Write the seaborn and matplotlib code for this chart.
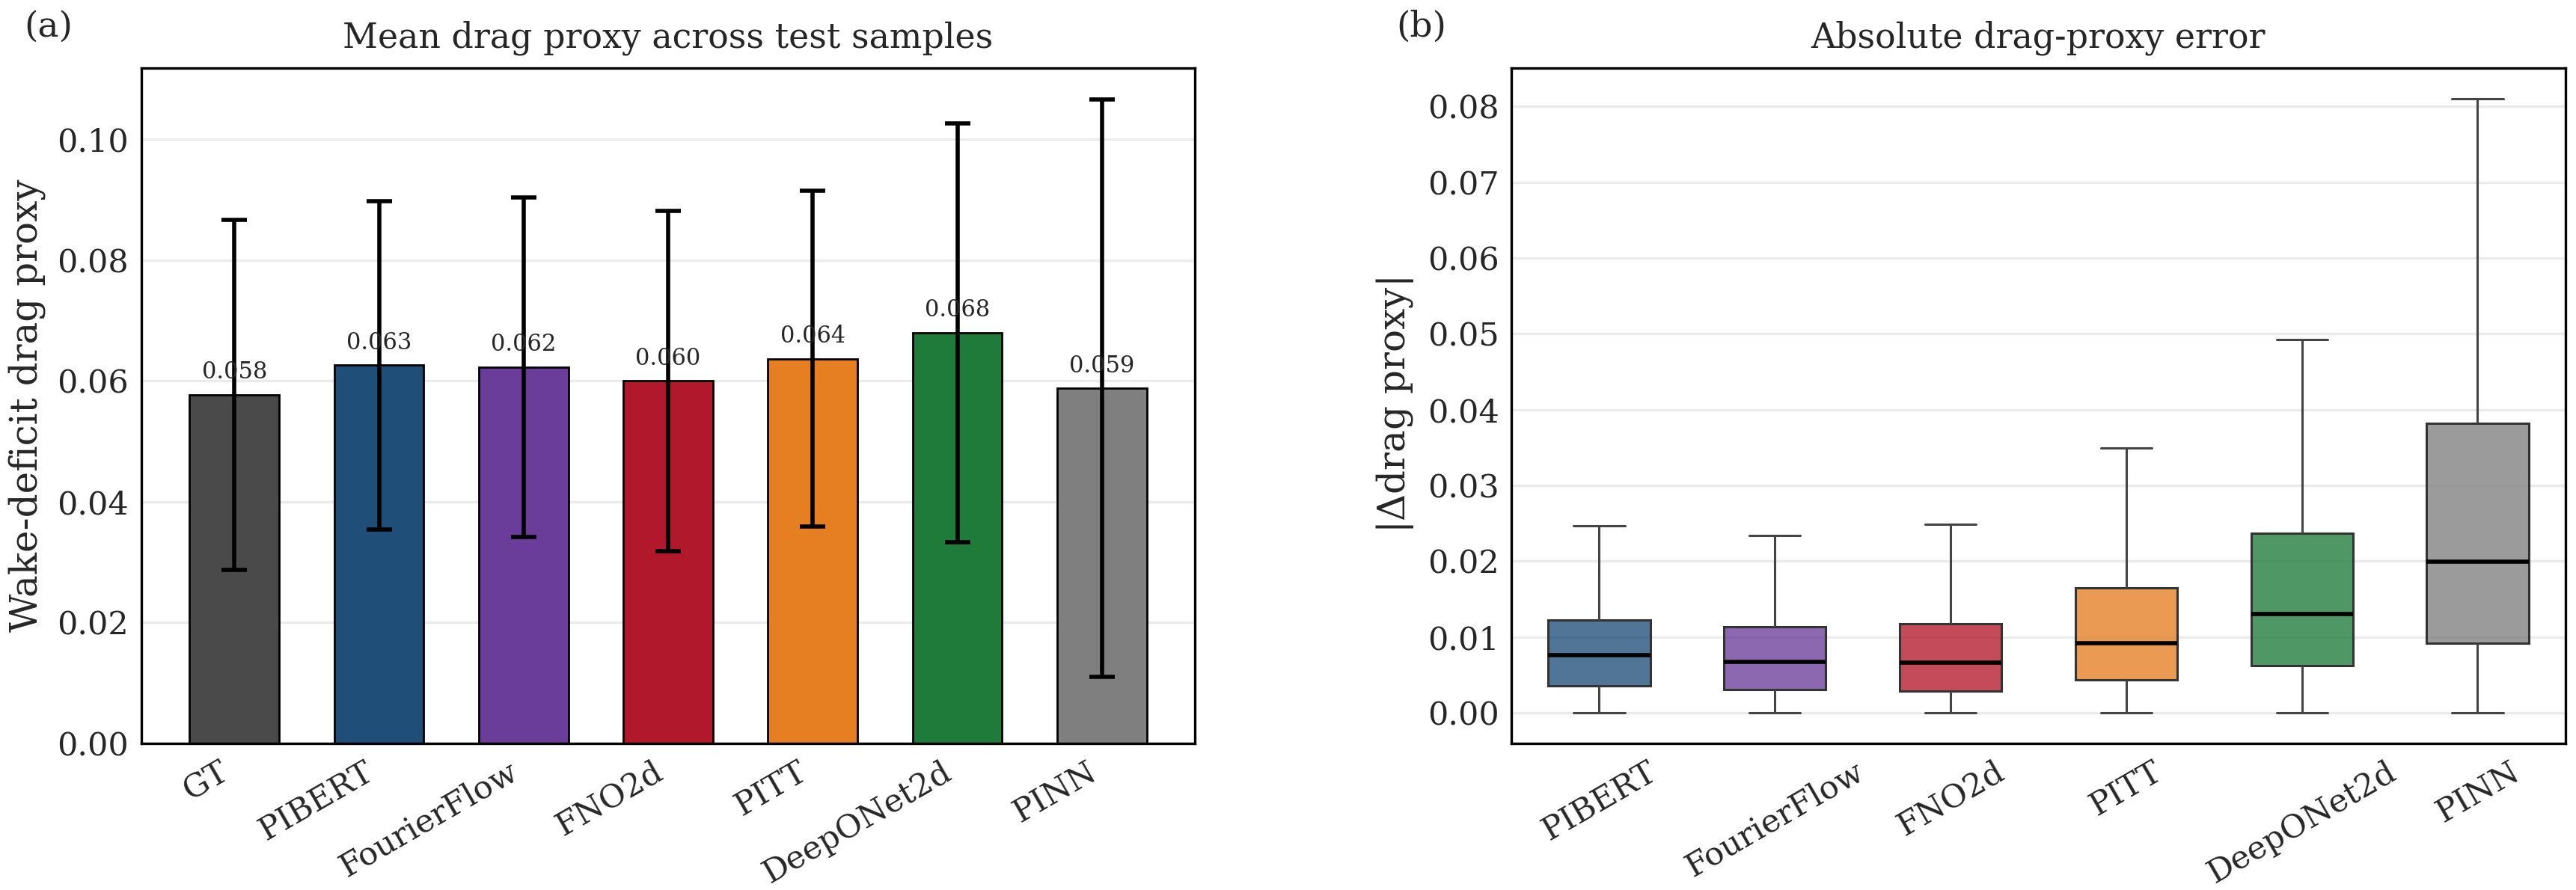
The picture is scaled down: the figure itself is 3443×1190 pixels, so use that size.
import numpy as np
import pandas as pd
import matplotlib
matplotlib.use("Agg")
import matplotlib.pyplot as plt
import seaborn as sns
from matplotlib.colors import to_rgba

# data
models = ["GT", "PIBERT", "FourierFlow", "FNO2d", "PITT", "DeepONet2d", "PINN"]
mean_drag = [0.0577, 0.0626, 0.0623, 0.0600, 0.0637, 0.0680, 0.0588]
std_drag = [0.0290, 0.0272, 0.0281, 0.0282, 0.0278, 0.0347, 0.0478]
colors = ["#4a4a4a", "#1f4e79", "#6a3d9a", "#b2182b", "#e67e22", "#1e7b3a", "#7f7f7f"]

# absolute error box stats: whisker low, Q1, median, Q3, whisker high
err_models = ["PIBERT", "FourierFlow", "FNO2d", "PITT", "DeepONet2d", "PINN"]
err_lo = [0.0, 0.0, 0.0, 0.0, 0.0, 0.0]
err_q1 = [0.0035, 0.0031, 0.0029, 0.0043, 0.0062, 0.0092]
err_med = [0.0076, 0.0067, 0.0066, 0.0092, 0.0130, 0.0199]
err_q3 = [0.0122, 0.0113, 0.0117, 0.0165, 0.0237, 0.0382]
err_hi = [0.0247, 0.0234, 0.0249, 0.0349, 0.0492, 0.0810]

sns.set_style("white")
plt.rcParams["font.family"] = ["DejaVu Serif"]
plt.rcParams["mathtext.fontset"] = "dejavuserif"

fig, (ax1, ax2) = plt.subplots(1, 2, figsize=(17.215, 5.95), dpi=200)
fig.subplots_adjust(left=0.0548, right=0.9959, bottom=0.1647, top=0.9235, wspace=0.30)

# (a) bar chart with error bars
bar_df = pd.DataFrame({"model": models, "mean": mean_drag})
sns.barplot(data=bar_df, x="model", y="mean", hue="model", palette=colors,
            saturation=1, width=0.62, edgecolor="black", linewidth=1.0,
            legend=False, ax=ax1, zorder=2)
ax1.errorbar(np.arange(len(models)), mean_drag, yerr=std_drag, fmt="none",
             ecolor="black", elinewidth=2.0, capsize=6, capthick=2.0, zorder=3)
for i, m in enumerate(mean_drag):
    ax1.text(i, m + 0.0018, f"{m:.3f}", ha="center", va="bottom", fontsize=11, zorder=4)
ax1.set_xlim(-0.645, 6.645)
ax1.set_ylim(0, 0.1118)
ticks_a = [0.0, 0.02, 0.04, 0.06, 0.08, 0.10]
ax1.set_yticks(ticks_a)
ax1.set_yticklabels([f"{t:.2f}" for t in ticks_a])
ax1.set_xlabel("")
ax1.set_ylabel("Wake-deficit drag proxy", fontsize=18, labelpad=5.5)
ax1.set_title("Mean drag proxy across test samples", fontsize=16.5, pad=10)

# (b) box plot of absolute error
rows = []
for k, name in enumerate(err_models):
    for v in [err_lo[k], err_q1[k], err_med[k], err_q3[k], err_hi[k]]:
        rows.append({"model": name, "err": v})
box_df = pd.DataFrame(rows)
sns.boxplot(data=box_df, x="model", y="err", hue="model", palette=colors[1:],
            saturation=1, whis=np.inf, width=0.58, showfliers=False,
            linewidth=1.1, linecolor="#444444",
            medianprops=dict(color="black", linewidth=2.0),
            legend=False, ax=ax2)
for patch, c in zip(ax2.patches, colors[1:]):
    patch.set_facecolor(to_rgba(c, 0.78))
    patch.set_edgecolor("#333333")
ax2.set_xlim(-0.5, 5.5)
ax2.set_ylim(-0.00405, 0.08505)
ticks_b = [0.0, 0.01, 0.02, 0.03, 0.04, 0.05, 0.06, 0.07, 0.08]
ax2.set_yticks(ticks_b)
ax2.set_yticklabels([f"{t:.2f}" for t in ticks_b])
ax2.set_xlabel("")
ax2.set_ylabel(r"|$\Delta$drag proxy|", fontsize=18, labelpad=5.5)
ax2.set_title("Absolute drag-proxy error", fontsize=16.5, pad=10)

for ax in (ax1, ax2):
    ax.set_axisbelow(True)
    ax.yaxis.grid(True, color="#ebebeb", linewidth=1.2)
    ax.xaxis.grid(False)
    for s in ax.spines.values():
        s.set_color("black")
        s.set_linewidth(1.2)
    ax.tick_params(axis="both", direction="in", length=5, width=1.2,
                   labelsize=15.5, pad=6)

plt.setp(ax1.get_xticklabels(), rotation=30, ha="right")
plt.setp(ax2.get_xticklabels(), rotation=30, ha="center")

fig.text(0.0095, 0.97, "(a)", fontsize=17, ha="left", va="center")
fig.text(0.542, 0.97, "(b)", fontsize=17, ha="left", va="center")

fig.savefig("out.png", dpi=200)
